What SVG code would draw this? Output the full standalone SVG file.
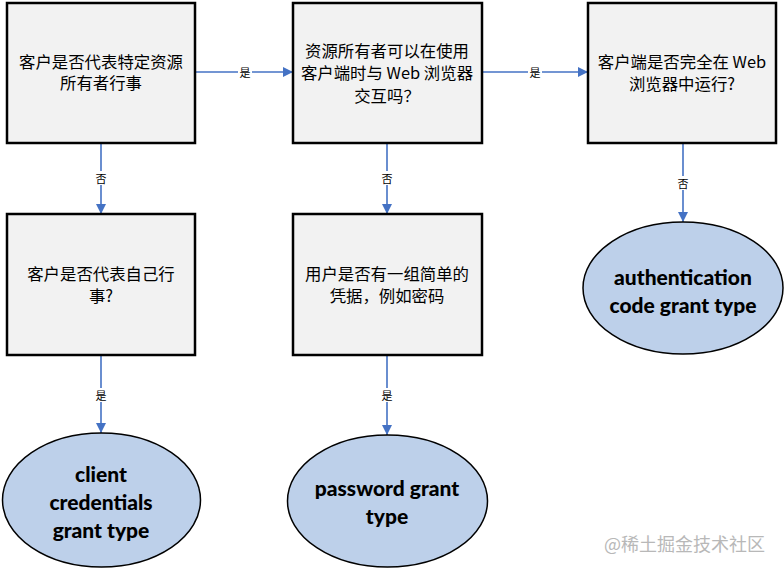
<svg xmlns="http://www.w3.org/2000/svg" width="784" height="569" viewBox="0 0 784 569">
<style>
.box{fill:#f2f2f2;stroke:#000;stroke-width:2.5}
.ell{fill:#bdd0ea;stroke:#000;stroke-width:1.5}
.bt{font-family:"Microsoft YaHei","Noto Sans CJK SC",sans-serif;font-size:16.4px;fill:#000;text-anchor:middle;dominant-baseline:central}
.et{font-family:Lato,"Liberation Sans",sans-serif;font-weight:900;font-size:21px;fill:#000;text-anchor:middle;dominant-baseline:central}
.ln{stroke:#4472c4;stroke-width:1.6;fill:none;marker-end:url(#ah)}
.lb{font-family:"Noto Sans CJK SC",sans-serif;font-size:11px;fill:#000;text-anchor:middle;dominant-baseline:central}
.lbg{fill:#fff}
.wm{font-family:"Noto Sans CJK SC",sans-serif;font-size:18px;fill:#b8b8b8}
</style>
<defs>
<marker id="ah" viewBox="0 0 10 10" refX="10" refY="5" markerWidth="10" markerHeight="10" markerUnits="userSpaceOnUse" orient="auto">
<path d="M0,0 L10,5 L0,10 z" fill="#4472c4"/>
</marker>
</defs>
<rect width="784" height="569" fill="#fff"/>
<g id="connectors">
<line class="ln" x1="195" y1="72" x2="293" y2="72"/>
<rect class="lbg" x="238" y="65" width="14" height="14"/><text class="lb" x="245" y="72">是</text>
<line class="ln" x1="482" y1="72" x2="588" y2="72"/>
<rect class="lbg" x="528" y="65" width="14" height="14"/><text class="lb" x="535" y="72">是</text>
<line class="ln" x1="101" y1="143" x2="101" y2="214"/>
<rect class="lbg" x="94" y="171" width="14" height="14"/><text class="lb" x="101" y="178">否</text>
<line class="ln" x1="387" y1="143" x2="387" y2="214"/>
<rect class="lbg" x="380" y="171" width="14" height="14"/><text class="lb" x="387" y="178">否</text>
<line class="ln" x1="683" y1="143" x2="683" y2="222"/>
<rect class="lbg" x="676" y="176" width="14" height="14"/><text class="lb" x="683" y="183">否</text>
<line class="ln" x1="101" y1="355" x2="101" y2="433"/>
<rect class="lbg" x="94" y="388" width="14" height="14"/><text class="lb" x="101" y="395">是</text>
<line class="ln" x1="387" y1="355" x2="387" y2="435"/>
<rect class="lbg" x="380" y="388" width="14" height="14"/><text class="lb" x="387" y="395">是</text>
</g>
<g id="n1">
<rect class="box" x="7" y="3" width="188" height="140"/>
<text class="bt" x="101" y="61">客户是否代表特定资源</text>
<text class="bt" x="101" y="82">所有者行事</text>
</g>
<g id="n2">
<rect class="box" x="293" y="3" width="189" height="140"/>
<text class="bt" x="387" y="50">资源所有者可以在使用</text>
<text class="bt" x="387" y="72">客户端时与 Web 浏览器</text>
<text class="bt" x="387" y="95">交互吗？</text>
</g>
<g id="n3">
<rect class="box" x="588" y="3" width="188" height="140"/>
<text class="bt" x="682" y="61">客户端是否完全在 Web</text>
<text class="bt" x="682" y="83">浏览器中运行?</text>
</g>
<g id="n4">
<rect class="box" x="7" y="214" width="188" height="141"/>
<text class="bt" x="101" y="273">客户是否代表自己行</text>
<text class="bt" x="101" y="295">事?</text>
</g>
<g id="n5">
<rect class="box" x="293" y="214" width="189" height="141"/>
<text class="bt" x="387" y="273">用户是否有一组简单的</text>
<text class="bt" x="387" y="295">凭据，例如密码</text>
</g>
<g id="n6">
<ellipse class="ell" cx="683" cy="288" rx="100" ry="66"/>
<text class="et" x="683" y="276">authentication</text>
<text class="et" x="683" y="304">code grant type</text>
</g>
<g id="n7">
<ellipse class="ell" cx="101.5" cy="500" rx="99" ry="67"/>
<text class="et" x="101" y="473">client</text>
<text class="et" x="101" y="501">credentials</text>
<text class="et" x="101" y="529">grant type</text>
</g>
<g id="n8">
<ellipse class="ell" cx="387.5" cy="501" rx="100" ry="66"/>
<text class="et" x="387" y="487">password grant</text>
<text class="et" x="387" y="515">type</text>
</g>
<text class="wm" x="604" y="551">@稀土掘金技术社区</text>
</svg>
